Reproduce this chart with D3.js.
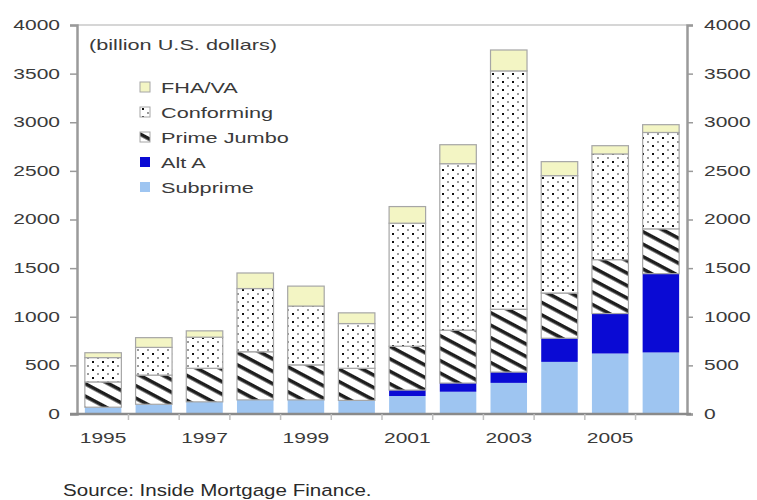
<!DOCTYPE html>
<html>
<head>
<meta charset="utf-8">
<script src="https://cdn.jsdelivr.net/npm/d3@7"></script>
<style>
  html, body { margin: 0; padding: 0; background: #fff; }
  svg { display: block; }
  text { font-family: "Liberation Sans", Arial, sans-serif; }
</style>
</head>
<body>
<svg id="chart" width="757" height="500"></svg>
<script>
// Mortgage originations by type, billion U.S. dollars
const years       = ["1995","1996","1997","1998","1999","2000","2001","2002","2003","2004","2005","2006"];
const subprime    = [70, 100, 125, 145, 145, 140, 185, 229, 320, 536, 622, 633];
const altA        = [0, 0, 0, 0, 0, 0, 61, 89, 111, 243, 411, 810];
const primeJumbo  = [260, 300, 345, 495, 360, 330, 451, 544, 646, 465, 554, 461];
const conforming  = [250, 285, 320, 650, 605, 460, 1265, 1712, 2451, 1207, 1087, 991];
const fhaVa       = [50, 100, 65, 160, 205, 110, 171, 195, 215, 144, 85, 80];

const yTicks      = [0, 500, 1000, 1500, 2000, 2500, 3000, 3500, 4000];
const xTickLabels = ["1995","1997","1999","2001","2003","2005"];

const seriesKeys   = ["subprime", "altA", "primeJumbo", "conforming", "fhaVa"];
const seriesNames  = { subprime: "Subprime", altA: "Alt A", primeJumbo: "Prime Jumbo", conforming: "Conforming", fhaVa: "FHA/VA" };
const seriesValues = { subprime, altA, primeJumbo, conforming, fhaVa };

const table = years.map((yr, i) => {
  const row = { year: yr };
  seriesKeys.forEach(k => row[k] = seriesValues[k][i]);
  return row;
});

const svg = d3.select("#chart");
const plotLeft = 77, plotRight = 687, plotTop = 25, plotBottom = 414;

const x = d3.scaleBand().domain(years).range([plotLeft, plotRight]).paddingInner(0.28).paddingOuter(0.155);
const y = d3.scaleLinear().domain([0, 4000]).range([plotBottom, plotTop]);

// Wide lettering: stretch text horizontally around its own anchor point
function widen(sel, sx) {
  sel.each(function () {
    const t = d3.select(this);
    const x0 = +t.attr("x") || 0;
    t.attr("x", 0).attr("transform", `translate(${x0},0) scale(${sx},1)`);
  });
}

// Fill patterns
const defs = svg.append("defs");
const dots = defs.append("pattern").attr("id", "dots")
  .attr("patternUnits", "userSpaceOnUse").attr("width", 10).attr("height", 8);
dots.append("rect").attr("width", 10).attr("height", 8).attr("fill", "#fff");
dots.append("rect").attr("x", 2).attr("y", 1).attr("width", 2).attr("height", 2).attr("fill", "#111");
dots.append("rect").attr("x", 7).attr("y", 5).attr("width", 2).attr("height", 2).attr("fill", "#9a9a9a");

const stripes = defs.append("pattern").attr("id", "stripes")
  .attr("patternUnits", "userSpaceOnUse").attr("width", 12).attr("height", 11)
  .attr("patternTransform", "rotate(28)");
stripes.append("rect").attr("width", 12).attr("height", 11).attr("fill", "#fff");
stripes.append("rect").attr("y", 0).attr("width", 12).attr("height", 3.6).attr("fill", "#1e1e1e");

const fills = {
  subprime: "#9ec5f1",
  altA: "#0a0ad4",
  primeJumbo: "url(#stripes)",
  conforming: "url(#dots)",
  fhaVa: "#f3f5c4"
};
const strokes = {
  subprime: "none",
  altA: "none",
  primeJumbo: "#a6a6a6",
  conforming: "#a6a6a6",
  fhaVa: "#a6a6a6"
};

// Plot frame: top border
svg.append("line").attr("x1", plotLeft).attr("x2", plotRight).attr("y1", plotTop).attr("y2", plotTop)
  .attr("stroke", "#c8c8c8").attr("stroke-width", 1.5);

// Stacked bars
const stacked = d3.stack().keys(seriesKeys)(table);
const layers = svg.append("g").selectAll("g").data(stacked).join("g");
layers.selectAll("rect")
  .data(d => d.map(p => ({ key: d.key, p })).filter(e => e.p[1] - e.p[0] > 0))
  .join("rect")
  .attr("x", d => x(d.p.data.year))
  .attr("width", x.bandwidth())
  .attr("y", d => y(d.p[1]))
  .attr("height", d => y(d.p[0]) - y(d.p[1]))
  .attr("fill", d => fills[d.key])
  .attr("stroke", d => strokes[d.key])
  .attr("stroke-width", 1.2);

// Axes
const axisColor = "#9a9a9a";
const labelColor = "#3a3a3a";

const yLeft = svg.append("g").attr("transform", `translate(${plotLeft},0)`)
  .call(d3.axisLeft(y).tickValues(yTicks).tickSize(7).tickPadding(10).tickFormat(d3.format("d")));
const yRight = svg.append("g").attr("transform", `translate(${plotRight},0)`)
  .call(d3.axisRight(y).tickValues(yTicks).tickSize(6).tickPadding(11).tickFormat(d3.format("d")));
[yLeft, yRight].forEach(g => {
  g.select(".domain").attr("stroke", axisColor).attr("stroke-width", 2.5);
  g.selectAll(".tick line").attr("stroke", axisColor).attr("stroke-width", 1.5);
  g.selectAll(".tick text").attr("fill", labelColor).style("font-size", "14px")
    .style("font-family", "'Liberation Sans', Arial, sans-serif");
  widen(g.selectAll(".tick text"), 1.5);
});

const xAxis = svg.append("g").attr("transform", `translate(0,${plotBottom})`)
  .call(d3.axisBottom(x).tickSize(0).tickPadding(19)
    .tickFormat(d => xTickLabels.includes(d) ? d : ""));
xAxis.select(".domain").remove();
xAxis.selectAll(".tick text").attr("fill", labelColor).style("font-size", "14px")
  .style("font-family", "'Liberation Sans', Arial, sans-serif");
widen(xAxis.selectAll(".tick text"), 1.5);
svg.append("line").attr("x1", plotLeft - 7).attr("x2", plotRight + 4).attr("y1", plotBottom).attr("y2", plotBottom)
  .attr("stroke", "#8a8a8a").attr("stroke-width", 2.5);
// category separators below the baseline
const step = x.step();
svg.append("g").selectAll("line")
  .data(years.slice(1))
  .join("line")
  .attr("x1", d => x(d) - (step - x.bandwidth()) / 2)
  .attr("x2", d => x(d) - (step - x.bandwidth()) / 2)
  .attr("y1", plotBottom).attr("y2", plotBottom + 6)
  .attr("stroke", "#c0c0c0").attr("stroke-width", 1.5);

// Unit note
const unitNote = svg.append("text").attr("x", 89).attr("y", 50).attr("fill", labelColor)
  .style("font-size", "14px").text("(billion U.S. dollars)");
widen(unitNote, 1.55);

// Legend
const legendOrder = ["fhaVa", "conforming", "primeJumbo", "altA", "subprime"];
const legend = svg.append("g").selectAll("g").data(legendOrder).join("g")
  .attr("transform", (d, i) => `translate(140,${82 + i * 25})`);
legend.append("rect").attr("width", 10).attr("height", 10)
  .attr("fill", d => fills[d])
  .attr("stroke", d => d === "altA" || d === "subprime" ? "none" : "#a6a6a6");
const legendText = legend.append("text").attr("x", 21).attr("y", 10.5).attr("fill", labelColor)
  .style("font-size", "14px").text(d => seriesNames[d]);
widen(legendText, 1.55);

// Source
const source = svg.append("text").attr("x", 63).attr("y", 496).attr("fill", "#2a2a2a")
  .style("font-size", "17px").text("Source: Inside Mortgage Finance.");
widen(source, 1.21);
</script>
</body>
</html>
